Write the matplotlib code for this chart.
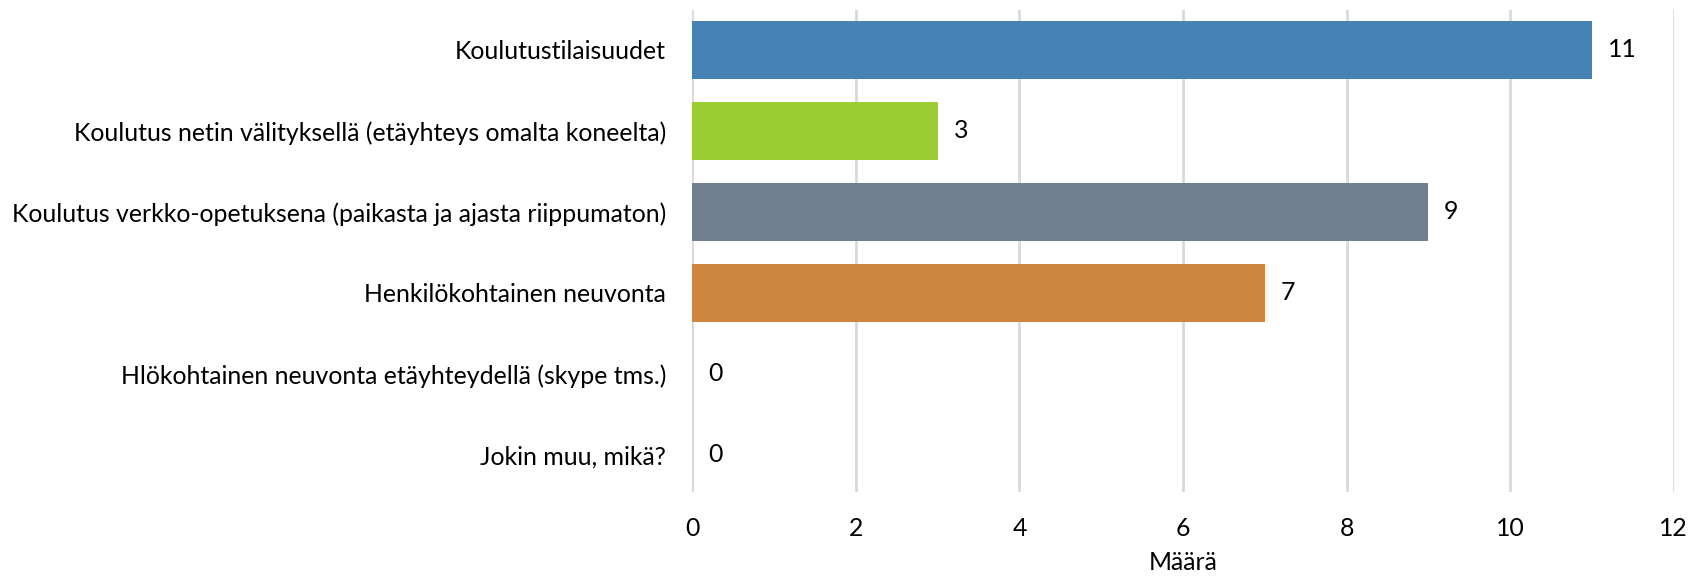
import matplotlib
matplotlib.use("Agg")
import matplotlib.pyplot as plt

# categories top to bottom
categories = [
    "Koulutustilaisuudet",
    "Koulutus netin välityksellä (etäyhteys omalta koneelta)",
    "Koulutus verkko-opetuksena (paikasta ja ajasta riippumaton)",
    "Henkilökohtainen neuvonta",
    "Hlökohtainen neuvonta etäyhteydellä (skype tms.)",
    "Jokin muu, mikä?",
]
counts = [11, 3, 9, 7, 0, 0]
colors = ["#4682B4", "#9ACD32", "#708090", "#CD853F", "#E0E0E0", "#E0E0E0"]
xticks = [0, 2, 4, 6, 8, 10, 12]

plt.rcParams["font.family"] = ["Lato", "DejaVu Sans"]
fs = 17.9

fig = plt.figure(figsize=(17.03, 5.79), dpi=100)
ax = fig.add_axes([0.4066, 0.1503, 0.5761, 0.8324])

y = list(range(len(categories)))
ax.barh(y, counts, height=0.716, color=colors, zorder=2)

for yi, v in zip(y, counts):
    ax.annotate(str(v), (v, yi), xytext=(11.5, 0), textcoords="offset points",
                va="center", ha="left", fontsize=fs, color="#000000")

ax.set_yticks(y)
ax.set_yticklabels(categories, fontsize=fs)
ax.set_ylim(5.46, -0.49)
ax.set_xlim(0, 12)
ax.set_xticks(xticks)
ax.set_xticklabels([str(t) for t in xticks], fontsize=fs)
ax.set_xlabel("Määrä", fontsize=fs, labelpad=8)

ax.grid(axis="x", color="#D9D9D9", linewidth=2, zorder=0)
for s in ax.spines.values():
    s.set_visible(False)
ax.tick_params(axis="both", length=0)
ax.tick_params(axis="y", pad=19)
ax.tick_params(axis="x", pad=18)

fig.savefig("out.png", dpi=100)
